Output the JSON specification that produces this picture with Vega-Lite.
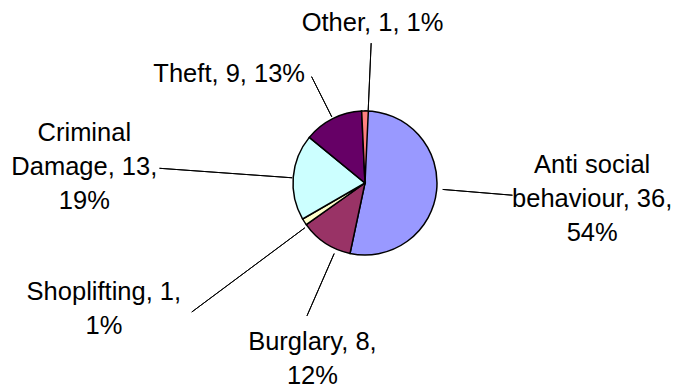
{
  "$schema": "https://vega.github.io/schema/vega-lite/v6.json",
  "autosize": "none",
  "width": 616,
  "height": 366,
  "padding": {"left": 57, "top": 0, "right": 0, "bottom": 21},
  "background": "white",
  "config": {"view": {"stroke": null}},
  "data": {
    "values": [
      {"category": "Anti social behaviour", "value": 36, "label": "Anti social|behaviour, 36,|54%"},
      {"category": "Burglary", "value": 8, "label": "Burglary, 8,|12%"},
      {"category": "Shoplifting", "value": 1, "label": "Shoplifting, 1,|1%"},
      {"category": "Criminal Damage", "value": 13, "label": "Criminal|Damage, 13,|19%"},
      {"category": "Theft", "value": 9, "label": "Theft, 9, 13%"},
      {"category": "Other", "value": 1, "label": "Other, 1, 1%"}
    ]
  },
  "transform": [
    {"window": [{"op": "sum", "field": "value", "as": "end"}], "frame": [null, 0]},
    {"calculate": "datum.end - datum.value", "as": "start"},
    {"calculate": "datum.end - datum.value / 2", "as": "mid"}
  ],
  "layer": [
    {
      "mark": {"type": "arc", "radius": 72, "stroke": "black", "strokeWidth": 1.5},
      "encoding": {
        "theta": {"field": "start", "type": "quantitative", "scale": {"nice": false, "zero": true}},
        "theta2": {"field": "end"},
        "color": {
          "field": "category",
          "type": "nominal",
          "legend": null,
          "scale": {
            "domain": ["Anti social behaviour", "Burglary", "Shoplifting", "Criminal Damage", "Theft", "Other"],
            "range": ["#9999FF", "#993366", "#FFFFCC", "#CCFFFF", "#660066", "#FF8080"]
          }
        }
      }
    },
    {
      "transform": [{"filter": {"field": "category", "equal": "Anti social behaviour"}}],
      "layer": [
        {"mark": {"type": "arc", "radius": 148, "radius2": 78, "thetaOffset": -0.022, "theta2Offset": -0.022, "fillOpacity": 0, "stroke": "black", "strokeWidth": 1},
         "encoding": {"theta": {"field": "mid", "type": "quantitative"}, "theta2": {"field": "mid"}}},
        {"mark": {"type": "text", "radius": 227.4, "thetaOffset": -0.1496, "align": "center", "baseline": "alphabetic", "font": "Liberation Sans", "fontSize": 25.5, "lineHeight": 34, "lineBreak": "|", "color": "black"},
         "encoding": {"theta": {"field": "mid", "type": "quantitative"}, "text": {"field": "label"}}}
      ]
    },
    {
      "transform": [{"filter": {"field": "category", "equal": "Burglary"}}],
      "layer": [
        {"mark": {"type": "arc", "radius": 145, "radius2": 77, "thetaOffset": -0.17, "theta2Offset": -0.17, "fillOpacity": 0, "stroke": "black", "strokeWidth": 1},
         "encoding": {"theta": {"field": "mid", "type": "quantitative"}, "theta2": {"field": "mid"}}},
        {"mark": {"type": "text", "radius": 174.7, "thetaOffset": -0.276, "align": "center", "baseline": "alphabetic", "font": "Liberation Sans", "fontSize": 25.5, "lineHeight": 34, "lineBreak": "|", "color": "black"},
         "encoding": {"theta": {"field": "mid", "type": "quantitative"}, "text": {"field": "label"}}}
      ]
    },
    {
      "transform": [{"filter": {"field": "category", "equal": "Shoplifting"}}],
      "layer": [
        {"mark": {"type": "arc", "radius": 216, "radius2": 75, "thetaOffset": -0.07, "theta2Offset": -0.07, "fillOpacity": 0, "stroke": "black", "strokeWidth": 1},
         "encoding": {"theta": {"field": "mid", "type": "quantitative"}, "theta2": {"field": "mid"}}},
        {"mark": {"type": "text", "radius": 286.2, "thetaOffset": 0.1485, "align": "center", "baseline": "alphabetic", "font": "Liberation Sans", "fontSize": 25.5, "lineHeight": 34, "lineBreak": "|", "color": "black"},
         "encoding": {"theta": {"field": "mid", "type": "quantitative"}, "text": {"field": "label"}}}
      ]
    },
    {
      "transform": [{"filter": {"field": "category", "equal": "Criminal Damage"}}],
      "layer": [
        {"mark": {"type": "arc", "radius": 206, "radius2": 73, "thetaOffset": -0.01, "theta2Offset": -0.01, "fillOpacity": 0, "stroke": "black", "strokeWidth": 1},
         "encoding": {"theta": {"field": "mid", "type": "quantitative"}, "theta2": {"field": "mid"}}},
        {"mark": {"type": "text", "radius": 283.8, "thetaOffset": 0.0667, "align": "center", "baseline": "alphabetic", "font": "Liberation Sans", "fontSize": 25.5, "lineHeight": 34, "lineBreak": "|", "color": "black"},
         "encoding": {"theta": {"field": "mid", "type": "quantitative"}, "text": {"field": "label"}}}
      ]
    },
    {
      "transform": [{"filter": {"field": "category", "equal": "Theft"}}],
      "layer": [
        {"mark": {"type": "arc", "radius": 119, "radius2": 74, "thetaOffset": 0, "theta2Offset": 0, "fillOpacity": 0, "stroke": "black", "strokeWidth": 1},
         "encoding": {"theta": {"field": "mid", "type": "quantitative"}, "theta2": {"field": "mid"}}},
        {"mark": {"type": "text", "radius": 169.2, "thetaOffset": -0.4664, "align": "center", "baseline": "alphabetic", "font": "Liberation Sans", "fontSize": 25.5, "lineHeight": 34, "lineBreak": "|", "color": "black"},
         "encoding": {"theta": {"field": "mid", "type": "quantitative"}, "text": {"field": "label"}}}
      ]
    },
    {
      "transform": [{"filter": {"field": "category", "equal": "Other"}}],
      "layer": [
        {"mark": {"type": "arc", "radius": 140, "radius2": 73, "thetaOffset": 0.044, "theta2Offset": 0.044, "fillOpacity": 0, "stroke": "black", "strokeWidth": 1},
         "encoding": {"theta": {"field": "mid", "type": "quantitative"}, "theta2": {"field": "mid"}}},
        {"mark": {"type": "text", "radius": 152.3, "thetaOffset": 0.0496, "align": "center", "baseline": "alphabetic", "font": "Liberation Sans", "fontSize": 25.5, "lineHeight": 34, "lineBreak": "|", "color": "black"},
         "encoding": {"theta": {"field": "mid", "type": "quantitative"}, "text": {"field": "label"}}}
      ]
    }
  ]
}
